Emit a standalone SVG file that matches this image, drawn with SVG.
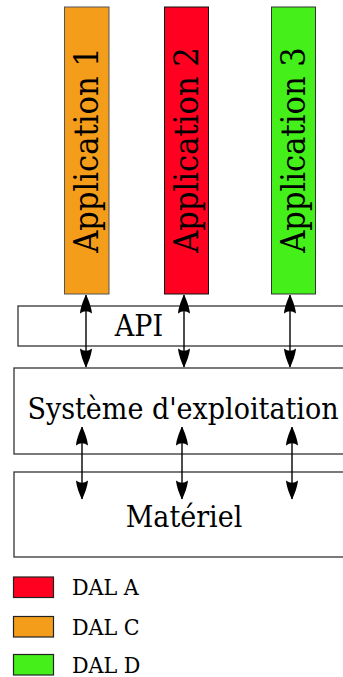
<svg xmlns="http://www.w3.org/2000/svg" width="343" height="677" viewBox="0 0 343 677">
  <style>
    text { font-family: "DejaVu Serif", serif; font-stretch: condensed; fill: #000; }
    .app { font-size: 34px; text-anchor: middle; }
    .layer { fill: #fff; stroke: #333; stroke-width: 1.3; }
    .lbl { font-size: 30px; text-anchor: middle; }
    .leg { font-size: 23px; }
    .link { stroke: #000; stroke-width: 1.4; fill: none; marker-start: url(#head); marker-end: url(#head); }
  </style>
  <defs>
    <!-- double-ended arrowhead with concave back -->
    <marker id="head" viewBox="0 0 20 12" refX="19.5" refY="6" markerWidth="20" markerHeight="12" markerUnits="userSpaceOnUse" orient="auto-start-reverse">
      <path d="M20,6 C15,3.5 7,0.5 1,0 Q5.5,6 1,12 C7,11.5 15,8.5 20,6 Z" fill="#000"/>
    </marker>
  </defs>

  <g id="app1">
    <rect x="64.5" y="7" width="44.5" height="287" fill="#f49d1a" stroke="#555" stroke-width="1"/>
    <text class="app" transform="translate(97.5,150) rotate(-90)">Application 1</text>
  </g>
  <g id="app2">
    <rect x="164.5" y="7" width="44" height="287" fill="#ff0020" stroke="#111" stroke-width="1"/>
    <text class="app" transform="translate(197.5,150) rotate(-90)">Application 2</text>
  </g>
  <g id="app3">
    <rect x="271.5" y="7" width="44" height="287" fill="#45f01a" stroke="#333" stroke-width="1"/>
    <text class="app" transform="translate(304.5,150) rotate(-90)">Application 3</text>
  </g>

  <g id="api">
    <rect class="layer" x="18" y="306" width="330" height="40"/>
    <text class="lbl" x="139" y="336">API</text>
  </g>
  <g id="os">
    <rect class="layer" x="14" y="368" width="334" height="86"/>
    <text class="lbl" x="183" y="419">Système d'exploitation</text>
  </g>
  <g id="hw">
    <rect class="layer" x="14" y="472" width="334" height="85"/>
    <text class="lbl" x="184" y="527">Matériel</text>
  </g>

  <g id="connectors">
    <line class="link" x1="86" y1="295" x2="86" y2="367"/>
    <line class="link" x1="184" y1="295" x2="184" y2="367"/>
    <line class="link" x1="290" y1="295" x2="290" y2="367"/>
    <line class="link" x1="82" y1="427" x2="82" y2="499"/>
    <line class="link" x1="182" y1="427" x2="182" y2="499"/>
    <line class="link" x1="292" y1="427" x2="292" y2="499"/>
  </g>

  <g id="legend">
    <g id="leg-a">
      <rect x="13.5" y="577" width="40" height="20.5" fill="#ff0020" stroke="#222" stroke-width="1.2"/>
      <text class="leg" x="72" y="595">DAL A</text>
    </g>
    <g id="leg-c">
      <rect x="13.5" y="616.5" width="40" height="20.5" fill="#f49d1a" stroke="#222" stroke-width="1.2"/>
      <text class="leg" x="72" y="634.5">DAL C</text>
    </g>
    <g id="leg-d">
      <rect x="13.5" y="654.5" width="40" height="20.5" fill="#45f01a" stroke="#222" stroke-width="1.2"/>
      <text class="leg" x="72" y="672.5">DAL D</text>
    </g>
  </g>
</svg>
